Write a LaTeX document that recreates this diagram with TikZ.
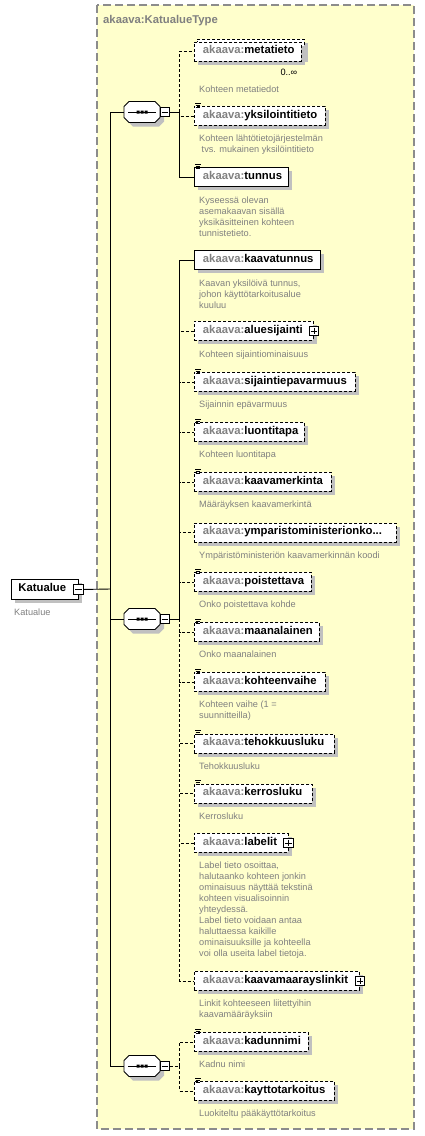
\documentclass[tikz,border=0pt]{standalone}
\usepackage{fontspec}
\setmainfont{Liberation Sans}
\usetikzlibrary{shadows}
\definecolor{bgyellow}{HTML}{FFFFCC}
\definecolor{akgray}{HTML}{808080}
\definecolor{shgray}{HTML}{C0C0C0}
\definecolor{framegray}{HTML}{8C8C8C}
\newcommand\nmfont{\fontsize{11.3}{13}\selectfont\bfseries}
\newcommand\dsfont{\fontsize{9.2}{11}\selectfont}
\newcommand\ak[1]{\mbox{\textcolor{akgray}{akaava:}#1}}
\tikzset{
  elem/.style={draw, fill=white, anchor=north west, minimum height=19pt,
    inner xsep=8.5pt, inner ysep=0pt, text height=8pt, text depth=3pt,
    font=\nmfont, align=left, line width=0.9pt,
    drop shadow={shadow xshift=4pt, shadow yshift=-4pt, fill=shgray, opacity=1}},
  opt/.style={dash pattern=on 3pt off 2pt},
  conn/.style={line width=0.9pt},
  desc/.style={anchor=base west, inner sep=0pt, font=\dsfont, text=akgray, align=left},
  pmbox/.style={draw, fill=white, minimum size=9.5pt, inner sep=0pt, line width=0.8pt},
  iconline/.style={line width=0.7pt},
}
\newcommand\pmminus[2]{\node[pmbox] (#1) at #2 {};
  \draw[line width=0.8pt] ([xshift=2pt]#1.west) -- ([xshift=-2pt]#1.east);}
\newcommand\pmplus[2]{\node[pmbox] (#1) at #2 {};
  \draw[line width=0.8pt] ([xshift=2pt]#1.west) -- ([xshift=-2pt]#1.east)
    ([yshift=-2pt]#1.north) -- ([yshift=2pt]#1.south);}
\newcommand\ico[1]{\draw[iconline]
  ([xshift=1pt,yshift=3pt]#1.north west) -- ++(5.5,0)
  ([xshift=1.5pt,yshift=1pt]#1.north west) -- ++(4,0)
  ([xshift=1.5pt,yshift=-1pt]#1.north west) -- ++(4,0);}
\newcommand\octpath[2]{(#1-18,#2-5.5) -- (#1-13,#2-10.5) -- (#1+13,#2-10.5) -- (#1+18,#2-5.5) -- (#1+18,#2+5.5) -- (#1+13,#2+10.5) -- (#1-13,#2+10.5) -- (#1-18,#2+5.5) -- cycle}
\newcommand\seqcomp[3]{%
  \begin{scope}[shift={(#2,#3)}]
    \fill[shgray] \octpath{4}{4};
    \draw[conn, fill=white] \octpath{0}{0};
    \draw[conn] (-14,0) -- (14,0);
    \fill (-5.5,-1.5) rectangle ++(3,3) (-1.5,-1.5) rectangle ++(3,3) (2.5,-1.5) rectangle ++(3,3);
    \node[inner sep=0pt, minimum width=36pt, minimum height=21pt] (#1) at (0,0) {};
    \pmminus{#1pm}{(22.75,0)}
  \end{scope}}
\begin{document}
\begin{tikzpicture}[x=1pt,y=-1pt]
\useasboundingbox (0,0) rectangle (424,1136);
\fill[white] (0,0) rectangle (424,1136);
% type frame
\fill[bgyellow] (97,5) rectangle (414,1129);
\draw[framegray, dash pattern=on 8pt off 4pt, line width=1.2pt] (97,5) rectangle (414,1129);
\node[anchor=base west, inner sep=0pt, font=\nmfont, text=akgray] (title) at (103,23) {akaava:KatualueType};

% root
\node[elem, minimum height=20pt, inner xsep=7pt, text width=52.7pt] (root) at (11,579) {Katualue};
\pmminus{rootpm}{(root.east)}
\node[desc] (rootdesc) at (14,615) {Katualue};

% compositors
\seqcomp{s1}{142}{112}
\seqcomp{s2}{142}{619}
\seqcomp{s3}{142}{1066}

% group 1 (multi-line descriptions: base anchor = last line)
\node[elem, opt, text width=90pt] (metaback) at (197,38.5) {\phantom{\ak{metatieto}}};
\node[elem, opt, text width=90pt] (metatieto) at (194,41.5) {\ak{metatieto}};
\node[anchor=base east, inner sep=0pt, font=\dsfont] (metamult) at (297.5,75) {0..∞};
\node[desc] (d1) at (199,92) {Kohteen metatiedot};

\node[elem, opt, text width=114pt] (yksil) at (194,106) {\ak{yksilointitieto}};
\ico{yksil}
\node[desc] (d2) at (199,152.5) {Kohteen lähtötietojärjestelmän\\\hspace*{2.5pt}tvs. mukainen yksilöintitieto};

\node[elem, text width=77pt] (tunnus) at (194,167) {\ak{tunnus}};
\ico{tunnus}
\node[desc] (d3) at (199,236) {Kyseessä olevan\\asemakaavan sisällä\\yksikäsitteinen kohteen\\tunnistetieto.};

% group 2
\node[elem, text width=109pt] (kaavatunnus) at (194,250) {\ak{kaavatunnus}};
\node[desc] (d4) at (199,308) {Kaavan yksilöivä tunnus,\\johon käyttötarkoitusalue\\kuuluu};

\node[elem, opt, text width=102pt] (aluesijainti) at (194,321) {\ak{aluesijainti}};
\pmplus{aluesijaintipm}{(aluesijainti.east)}
\node[desc] (d5) at (199,357) {Kohteen sijaintiominaisuus};

\node[elem, opt, text width=144pt] (sijaintiep) at (194,372) {\ak{sijaintiepavarmuus}};
\ico{sijaintiep}
\node[desc] (d6) at (199,407.5) {Sijainnin epävarmuus};

\node[elem, opt, text width=93pt] (luontitapa) at (194,422) {\ak{luontitapa}};
\ico{luontitapa}
\node[desc] (d7) at (199,457.5) {Kohteen luontitapa};

\node[elem, opt, text width=120pt] (kaavamerkinta) at (194,472) {\ak{kaavamerkinta}};
\ico{kaavamerkinta}
\node[desc] (d8) at (199,507.5) {Määräyksen kaavamerkintä};

\node[elem, opt, text width=185pt] (ymp) at (194,522.5) {\ak{ymparistoministerionko...}};
\node[desc] (d9) at (199,558) {Ympäristöministeriön kaavamerkinnän koodi};

\node[elem, opt, text width=100pt] (poistettava) at (194,572) {\ak{poistettava}};
\ico{poistettava}
\node[desc] (d10) at (199,607.5) {Onko poistettava kohde};

\node[elem, opt, text width=108pt] (maanalainen) at (194,622) {\ak{maanalainen}};
\ico{maanalainen}
\node[desc] (d11) at (199,657.5) {Onko maanalainen};

\node[elem, opt, text width=114pt] (kohteenvaihe) at (194,672) {\ak{kohteenvaihe}};
\ico{kohteenvaihe}
\node[desc] (d12) at (199,718.5) {Kohteen vaihe (1 =\\suunnitteilla)};

\node[elem, opt, text width=123pt] (tehokkuusluku) at (194,733.5) {\ak{tehokkuusluku}};
\ico{tehokkuusluku}
\node[desc] (d13) at (199,769) {Tehokkuusluku};

\node[elem, opt, text width=101pt] (kerrosluku) at (194,783.5) {\ak{kerrosluku}};
\ico{kerrosluku}
\node[desc] (d14) at (199,819) {Kerrosluku};

\node[elem, opt, text width=76.5pt] (labelit) at (194,833) {\ak{labelit}};
\pmplus{labelitpm}{(labelit.east)}
\node[desc] (d15) at (199,956.5) {Label tieto osoittaa,\\halutaanko kohteen jonkin\\ominaisuus näyttää tekstinä\\kohteen visualisoinnin\\yhteydessä.\\Label tieto voidaan antaa\\haluttaessa kaikille\\ominaisuuksille ja kohteella\\voi olla useita label tietoja.};

\node[elem, opt, text width=148pt] (kaavamaar) at (194,971) {\ak{kaavamaarayslinkit}};
\pmplus{kaavamaarpm}{(kaavamaar.east)}
\node[desc] (d16) at (199,1017.5) {Linkit kohteeseen liitettyihin\\kaavamääräyksiin};

% group 3
\node[elem, opt, text width=97pt] (kadunnimi) at (194,1032) {\ak{kadunnimi}};
\ico{kadunnimi}
\node[desc] (d17) at (199,1067.5) {Kadnu nimi};

\node[elem, opt, text width=123pt] (kayttot) at (194,1081) {\ak{kayttotarkoitus}};
\ico{kayttot}
\node[desc] (d18) at (199,1116.5) {Luokiteltu pääkäyttötarkoitus};

% connectors
\coordinate (trunk) at (110.5,589);
\draw[conn] (rootpm.east) -- (trunk);
\draw[conn] (trunk) |- (s1.west);
\draw[conn] (trunk) |- (s2.west);
\draw[conn] (trunk) |- (s3.west);

\coordinate (b1) at (179.5,112);
\draw[conn] (s1pm.east) -- (b1);
\draw[conn, opt] (b1) |- (metatieto.west);
\draw[conn, opt] (b1) |- (yksil.west);
\draw[conn] (b1) |- (tunnus.west);

\coordinate (b2) at (179.5,619);
\draw[conn] (s2pm.east) -- (b2);
\draw[conn] (b2) |- (kaavatunnus.west);
\foreach \n in {aluesijainti,sijaintiep,luontitapa,kaavamerkinta,ymp,poistettava,maanalainen,kohteenvaihe,tehokkuusluku,kerrosluku,labelit,kaavamaar}
  \draw[conn, opt] (b2) |- (\n.west);

\coordinate (b3) at (179.5,1066);
\draw[conn, opt] (s3pm.east) -- (b3);
\draw[conn, opt] (b3) |- (kadunnimi.west);
\draw[conn, opt] (b3) |- (kayttot.west);
\end{tikzpicture}
\end{document}
